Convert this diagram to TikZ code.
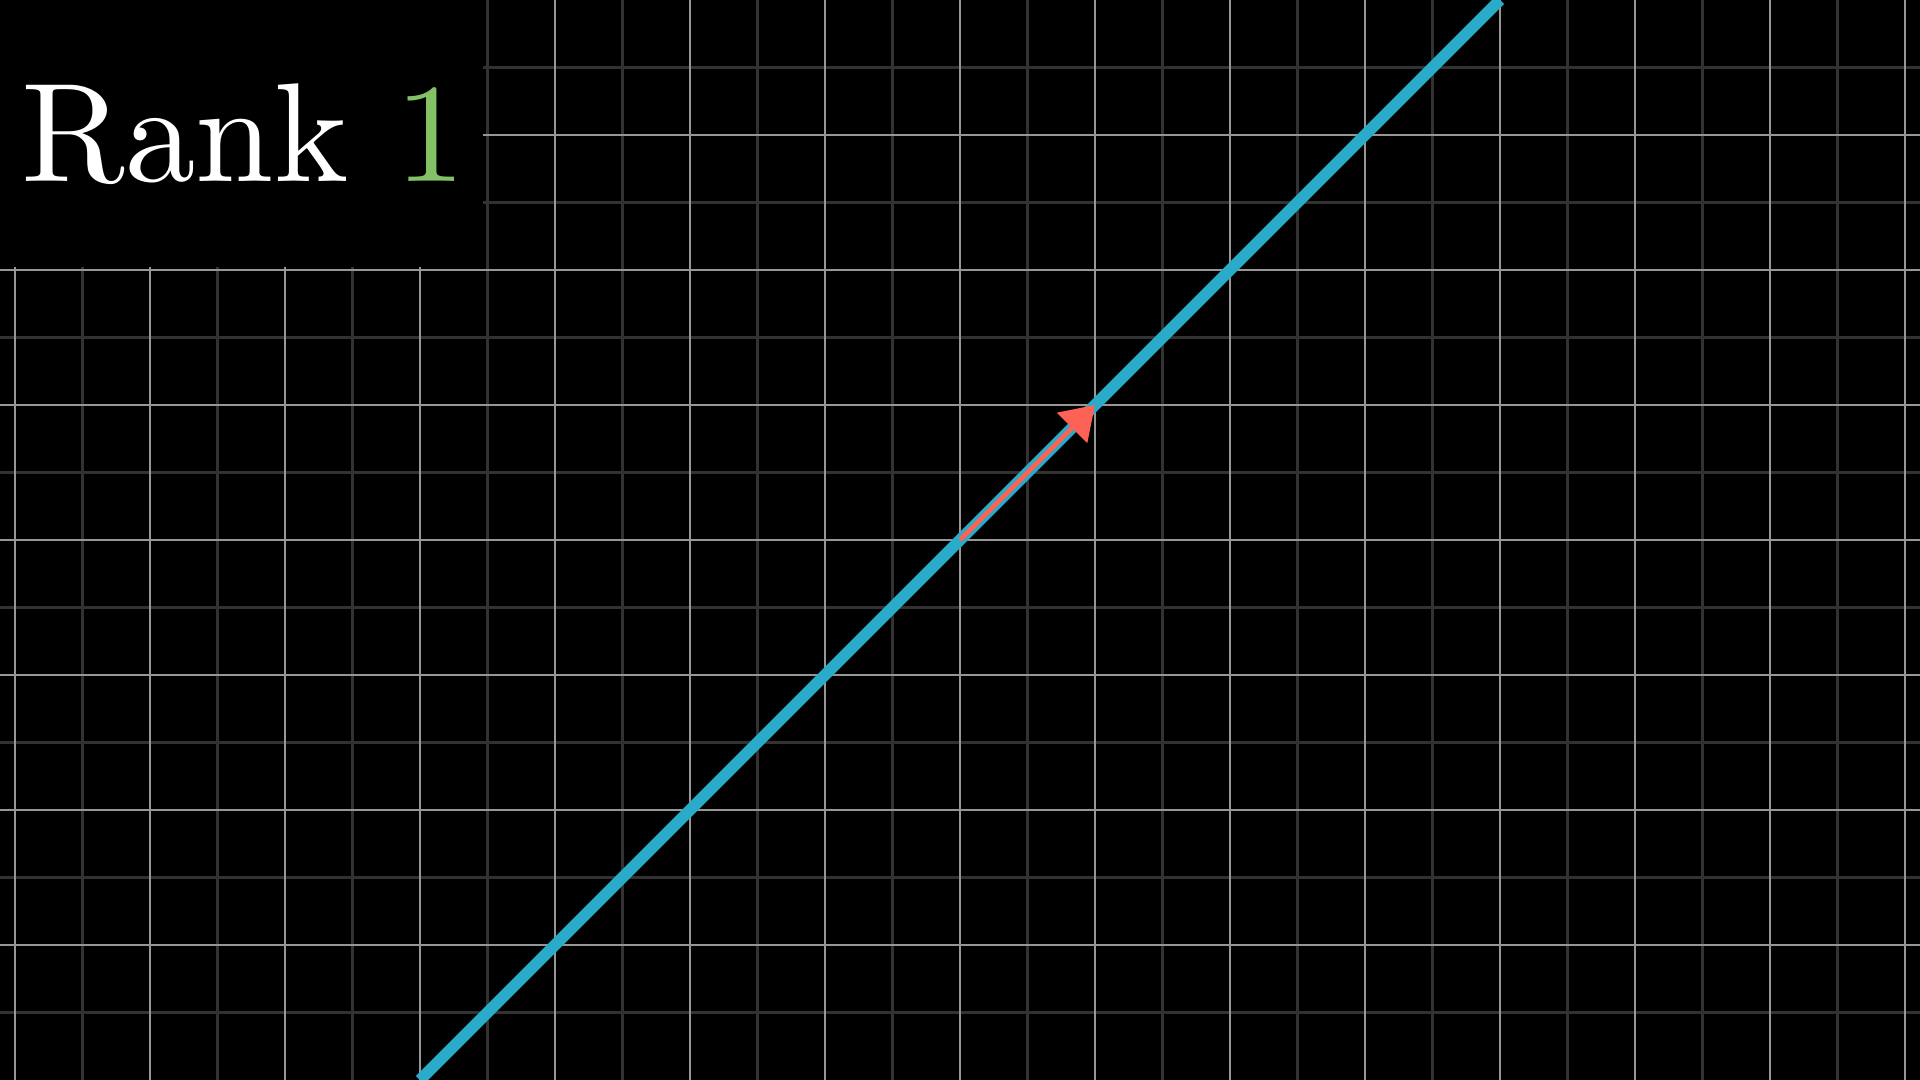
\documentclass[tikz,border=0pt]{standalone}
\usetikzlibrary{arrows.meta}
\definecolor{gridmajor}{RGB}{150,150,150}
\definecolor{gridminor}{RGB}{50,50,50}
\definecolor{lineblue}{HTML}{29ABCA}
\definecolor{vecred}{HTML}{FC6255}
\definecolor{rankgreen}{HTML}{83C167}
\tikzset{
  majorline/.style={draw=gridmajor, line width=0.62pt},
  minorline/.style={draw=gridminor, line width=0.45pt},
  spanline/.style={draw=lineblue, line width=2.4pt},
  vecarrow/.style={draw=vecred, line width=1pt, -{Triangle[length=0.24cm,width=0.31cm,fill=vecred]}},
  titlebox/.style={fill=black, draw=none},
  titletext/.style={text=white, font=\fontsize{10}{12}\selectfont, scale=2.97, inner sep=0pt, anchor=base west}
}
\begin{document}
\begin{tikzpicture}
\useasboundingbox (-7.1111,-4) rectangle (7.1111,4);
\fill[black] (-7.1111,-4) rectangle (7.1111,4);
% minor grid
\foreach \x in {-6.5,-5.5,...,6.5} \draw[minorline] (\x,-4) -- (\x,4);
\foreach \y in {-3.5,-2.5,...,3.5} \draw[minorline] (-7.1111,\y) -- (7.1111,\y);
% major grid
\foreach \x in {-7,...,7} \draw[majorline] (\x,-4) -- (\x,4);
\foreach \y in {-3,...,3} \draw[majorline] (-7.1111,\y) -- (7.1111,\y);
% span line and vector
\coordinate (L1) at (-4,-4);
\coordinate (L2) at (4,4);
\coordinate (O) at (0,0);
\coordinate (V) at (1,1);
\draw[spanline] (L1) -- (L2);
\draw[vecarrow] (O) -- (V);
% title
\path[titlebox] (-7.1111,4) rectangle (-3.53,2.02);
\node[titletext] (title) at (-6.972,2.652) {Rank \textcolor{rankgreen}{1}};
\end{tikzpicture}
\end{document}
